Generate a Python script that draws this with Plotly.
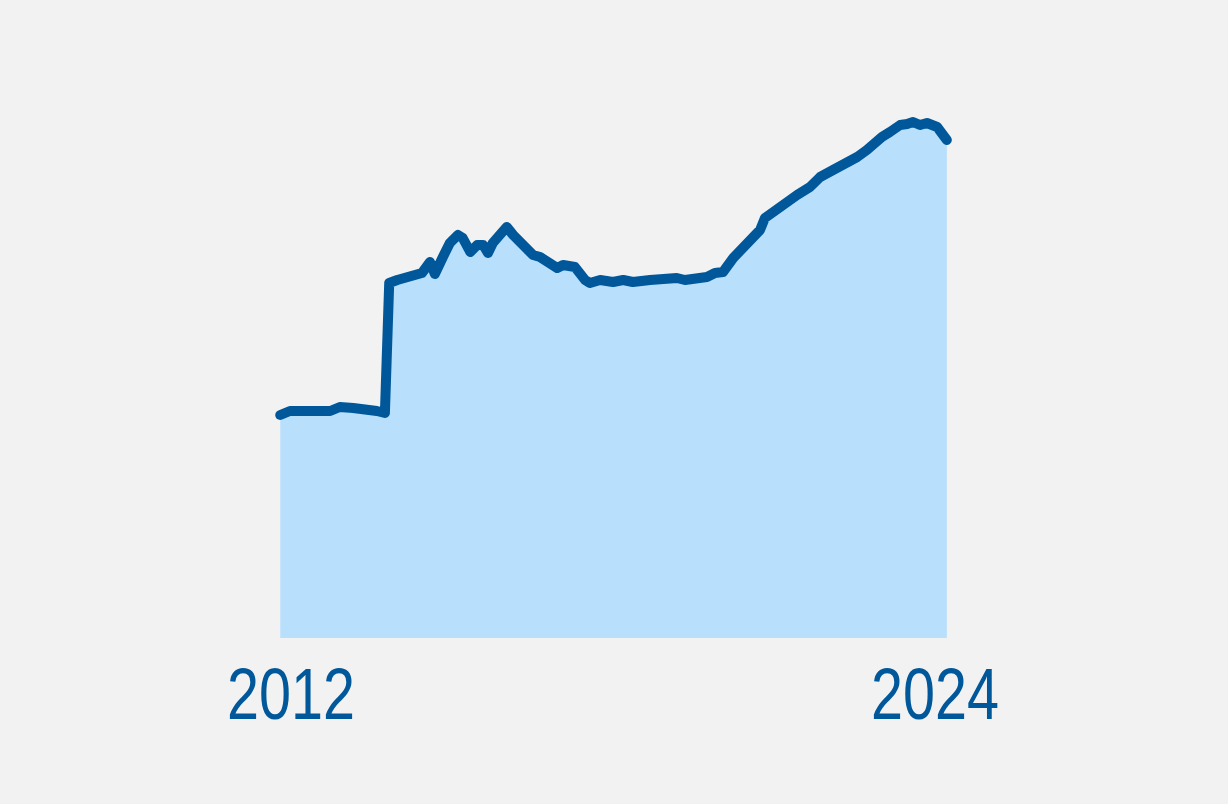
import plotly.graph_objects as go

# decimal years
years = [2011.80, 2011.98, 2012.73, 2012.91, 2013.16, 2013.29, 2013.43, 2013.60, 2013.75,
         2013.83, 2013.98, 2014.16, 2014.27, 2014.44, 2014.59, 2014.68, 2014.83, 2014.96,
         2015.11, 2015.20, 2015.34, 2015.47, 2015.58, 2015.67, 2015.76, 2016.02, 2016.14,
         2016.30, 2016.51, 2016.64, 2016.79, 2016.96, 2017.07, 2017.29, 2017.48, 2017.57,
         2017.76, 2018.00, 2018.19, 2018.37, 2018.69, 2018.93, 2019.19, 2019.34, 2019.53,
         2019.75, 2019.90, 2020.05, 2020.24, 2020.42, 2020.61, 2020.74, 2020.83, 2021.02,
         2021.24, 2021.43, 2021.67, 2021.86, 2022.10, 2022.36, 2022.55, 2022.73, 2022.92,
         2023.01, 2023.16, 2023.35, 2023.48, 2023.59, 2023.72, 2023.85, 2024.04, 2024.15,
         2024.22]
values = [223, 227, 227, 231, 230, 229, 230, 227, 225,
          355, 358, 361, 361, 365, 376, 364, 381, 395,
          403, 400, 386, 393, 393, 385, 395, 411, 403,
          395, 383, 381, 375, 370, 373, 371, 358, 355,
          358, 356, 358, 356, 358, 360, 360, 358, 359,
          361, 365, 366, 380, 390, 401, 408, 420, 428,
          436, 443, 451, 461, 468, 475, 481, 488, 498,
          501, 506, 513, 514, 516, 513, 515, 511, 505,
          498]
tick_years = [2012, 2024]
tick_labels = ["2012", "2024"]

line_col = "#00589b"
fill_col = "#b8dffc"
bg = "#f2f2f2"

fig = go.Figure(go.Scatter(x=years, y=values, mode="lines", fill="tozeroy",
                           fillcolor=fill_col,
                           line=dict(color=line_col, width=10)))

fig.update_layout(
    width=1228, height=804,
    paper_bgcolor=bg, plot_bgcolor=bg,
    margin=dict(l=0, r=0, t=0, b=166),
    showlegend=False,
    font=dict(family="Liberation Sans Narrow, Arial Narrow, Liberation Sans, sans-serif",
              color=line_col),
)
fig.update_xaxes(range=[2006.578, 2029.459], showgrid=False, zeroline=False,
                 showline=False, tickvals=tick_years, ticktext=tick_labels,
                 ticks="", ticklabelstandoff=8,
                 tickfont=dict(size=72, color=line_col))
fig.update_yaxes(range=[0, 638], visible=False)

# drop the page margin, round the line joins, squeeze the labels to a narrow face
fig.write_html("out.html", config={"displayModeBar": False}, post_script=(
    "document.body.style.margin='0';"
    "document.querySelectorAll('.scatterlayer .js-line').forEach(function(p){"
    "p.style.strokeLinejoin='round';p.style.strokeLinecap='round';});"
    "document.querySelectorAll('.xtick text').forEach(function(t){"
    "t.setAttribute('textLength','128');"
    "t.setAttribute('lengthAdjust','spacingAndGlyphs');});"
))
